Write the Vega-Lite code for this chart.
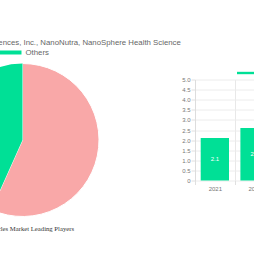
{
  "$schema": "https://vega.github.io/schema/vega-lite/v6.json",
  "background": "white",
  "padding": {"left": -129.5, "top": 29.5, "right": -47, "bottom": 0},
  "bounds": "flush",
  "spacing": 150.5,
  "config": {
    "view": {"stroke": null},
    "font": "Liberation Sans",
    "legend": {"padding": 0, "labelFont": "Liberation Sans", "labelFontSize": 7.8, "labelColor": "#666666", "symbolStrokeWidth": 0, "symbolOpacity": 1, "labelOffset": 4, "labelLimit": 1000}
  },
  "resolve": {
    "scale": {"fill": "independent", "stroke": "independent", "color": "independent"},
    "legend": {"fill": "independent", "stroke": "independent", "color": "independent"}
  },
  "hconcat": [
    {
      "width": 44,
      "height": 121,
      "title": {"text": "Nanoparticles Market Leading Players", "orient": "bottom", "anchor": "middle", "frame": "group", "font": "Liberation Serif", "fontSize": 6.7, "fontWeight": "normal", "color": "#333333", "offset": 7},
      "data": {"values": [
        {"company": "Aquanova AG, Nanotech Sciences, Inc., NanoNutra, NanoSphere Health Science", "share": 56.7},
        {"company": "Others", "share": 43.3}
      ]},
      "mark": {"type": "arc", "radius": 76.5, "strokeWidth": 1},
      "encoding": {
        "theta": {"field": "share", "type": "quantitative", "stack": true},
        "order": {"field": "share", "type": "quantitative", "sort": "descending"},
        "fill": {
          "field": "company", "type": "nominal",
          "scale": {"domain": ["Aquanova AG, Nanotech Sciences, Inc., NanoNutra, NanoSphere Health Science", "Others"], "range": ["#f9a8a8", "#00e096"]},
          "legend": {"values": ["Others"], "orient": "none", "legendX": -4, "legendY": -39.5, "title": null, "symbolType": "M-1,-0.16H1V0.16H-1Z", "symbolSize": 625}
        },
        "stroke": {
          "field": "company", "type": "nominal",
          "scale": {"domain": ["Aquanova AG, Nanotech Sciences, Inc., NanoNutra, NanoSphere Health Science"], "range": ["#ffffff"]},
          "legend": {"values": ["Aquanova AG, Nanotech Sciences, Inc., NanoNutra, NanoSphere Health Science"], "orient": "none", "legendX": -130, "legendY": -49.5, "title": null, "symbolType": "M-1,-0.16H1V0.16H-1Z", "symbolSize": 625, "symbolFillColor": "#f9a8a8"}
        }
      }
    },
    {
      "width": 79.4,
      "height": 101,
      "data": {"values": [
        {"year": "2021", "value": 2.1, "series": "Market Size"},
        {"year": "2022", "value": 2.6, "series": "Market Size"}
      ]},
      "layer": [
        {
          "mark": {"type": "bar", "width": {"band": 0.713}},
          "encoding": {
            "x": {"field": "year", "type": "ordinal", "scale": {"paddingInner": 0, "paddingOuter": 0},
              "axis": {"title": null, "labelAngle": 0, "tickBand": "extent", "grid": true, "gridColor": "#e8e8e8", "domain": false, "tickColor": "#e0e0e0", "tickSize": 4, "labelPadding": 1, "labelFontSize": 6, "labelColor": "#777777"}},
            "y": {"field": "value", "type": "quantitative", "scale": {"domain": [0, 5]},
              "axis": {"title": null, "values": [0, 0.5, 1, 1.5, 2, 2.5, 3, 3.5, 4, 4.5, 5], "labelExpr": "datum.value === 0 ? '0' : format(datum.value, '.1f')", "grid": true, "gridColor": "#ececec", "domainColor": "#dddddd", "tickColor": "#e0e0e0", "tickSize": 4, "labelPadding": 1, "labelFontSize": 6, "labelColor": "#777777"}},
            "color": {"field": "series", "type": "nominal", "scale": {"range": ["#00e096"]},
              "legend": {"orient": "none", "legendX": 42, "legendY": -15, "title": null, "symbolType": "M-1,-0.14H1V0.14H-1Z", "symbolSize": 289}}
          }
        },
        {
          "mark": {"type": "text", "color": "white", "fontSize": 6},
          "encoding": {
            "x": {"field": "year", "type": "ordinal"},
            "y": {"field": "value", "type": "quantitative", "scale": {"domain": [0, 10]}, "axis": null},
            "text": {"field": "value", "type": "quantitative", "format": ".1f"}
          }
        }
      ],
      "resolve": {"scale": {"y": "independent"}}
    }
  ]
}
